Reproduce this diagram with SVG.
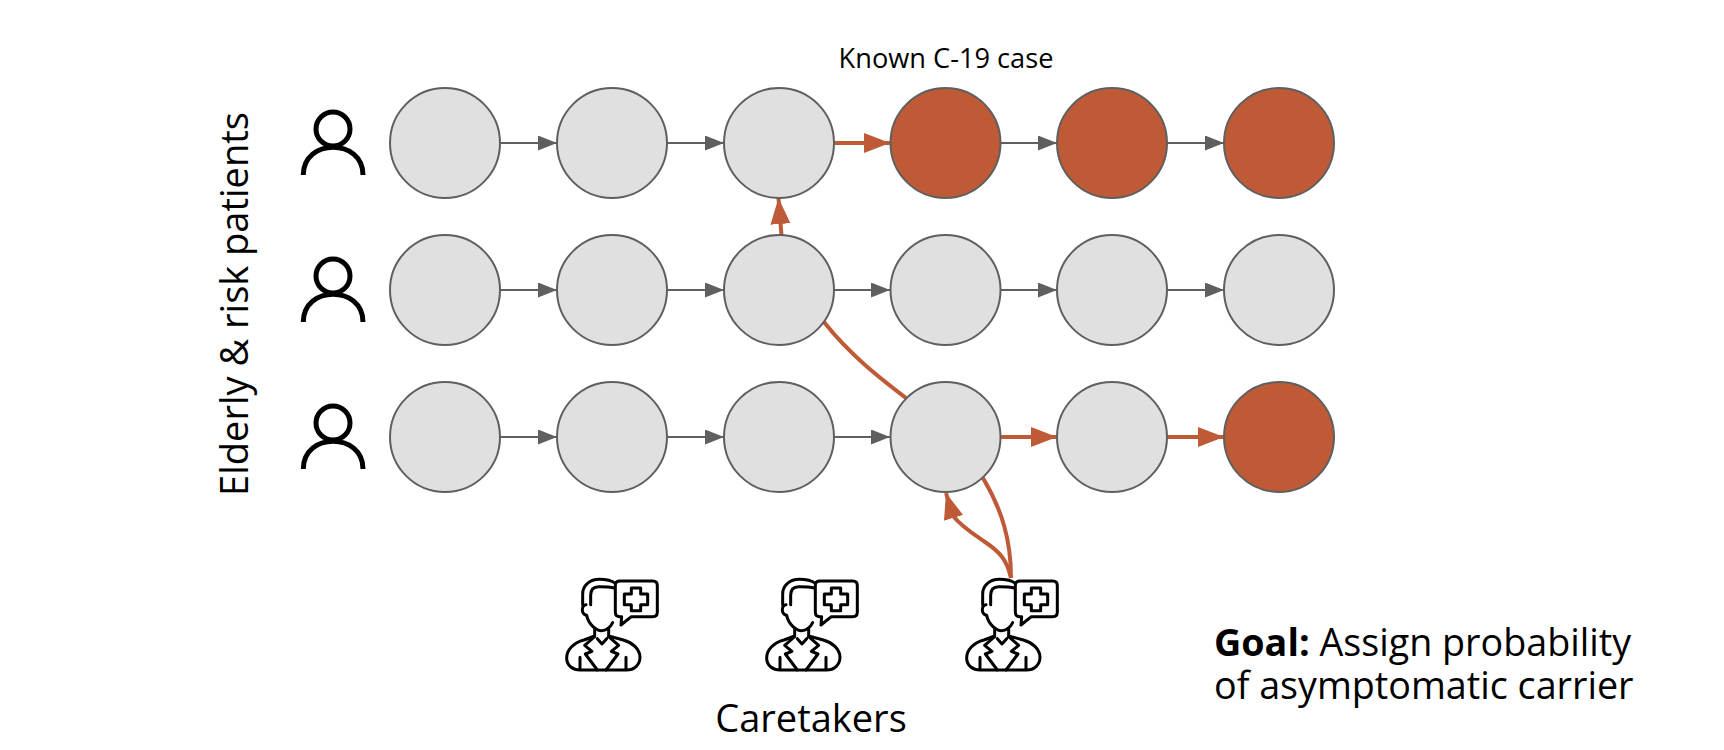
<svg xmlns="http://www.w3.org/2000/svg" width="1724" height="750" viewBox="0 0 1724 750">
<style>
.n{fill:#e0e0e0;stroke:#5f5f5f;stroke-width:2}
.r{fill:#bf5a36;stroke:#5f5f5f;stroke-width:2}
.g{fill:none;stroke:#5f5f5f;stroke-width:2}
.o{fill:none;stroke:#bf5a36;stroke-width:4}
text{font-family:"Open Sans","Noto Sans",sans-serif;fill:#000}
.ic{fill:none;stroke:#000;stroke-width:5}
.dc{fill:none;stroke:#000;stroke-width:9;stroke-linejoin:round;stroke-linecap:round}
</style>
<defs>
<marker id="ag" markerUnits="userSpaceOnUse" markerWidth="20" markerHeight="16" refX="19" refY="7.500" orient="auto"><path d="M0 0L19 7.500L0 15Z" fill="#5f5f5f"/></marker>
<marker id="ao" markerUnits="userSpaceOnUse" markerWidth="28" markerHeight="22" refX="26" refY="10" orient="auto"><path d="M0 0L26 10L0 20Z" fill="#bf5a36"/></marker>
<g id="person"><circle cx="333" cy="129" r="17" class="ic"/><path d="M303.300 175C303.300 138 363 138 363 175" class="ic"/></g>
<g id="doc" transform="scale(.3333)">
<path class="dc" d="M166 46Q166 33 180 33H278Q292 33 292 47V126Q292 140 278 140H214L183 165L185 140H180Q166 140 166 126Z"/>
<path class="dc" d="M214 54H242V72H263V104H242V122H214V104H193V72H214Z"/>
<path class="dc" d="M166 40Q150 28 118 28C90 28 68 45 68 72V104"/>
<path class="dc" d="M92 104V76Q92 50 116 50C130 50 150 50 163 54"/>
<path class="dc" d="M78 104C64 106 62 132 80 136C86 165 110 182 124 182C138 182 150 174 158 158"/>
<path class="dc" d="M104 176V198L72 210C40 218 20 240 20 264C20 288 40 300 60 300H200C222 300 240 285 240 262C240 238 218 218 190 210L146 198V176"/>
<path class="dc" d="M104 200L74 226L96 244L76 252L112 300M146 200L176 226L154 244L174 252L138 300M112 206L126 222L140 206M60 262V298M198 262V298"/>
</g>
</defs>

<g id="connectors">
<path class="g" marker-end="url(#ag)" d="M500 143H557"/>
<path class="g" marker-end="url(#ag)" d="M667 143H724"/>
<path class="o" marker-end="url(#ao)" d="M834 143H890"/>
<path class="g" marker-end="url(#ag)" d="M1001 143H1057"/>
<path class="g" marker-end="url(#ag)" d="M1167 143H1224"/>
<path class="g" marker-end="url(#ag)" d="M500 290H557"/>
<path class="g" marker-end="url(#ag)" d="M667 290H724"/>
<path class="g" marker-end="url(#ag)" d="M834 290H890"/>
<path class="g" marker-end="url(#ag)" d="M1001 290H1057"/>
<path class="g" marker-end="url(#ag)" d="M1167 290H1224"/>
<path class="g" marker-end="url(#ag)" d="M500 437H557"/>
<path class="g" marker-end="url(#ag)" d="M667 437H724"/>
<path class="g" marker-end="url(#ag)" d="M834 437H890"/>
<path class="o" marker-end="url(#ao)" d="M1001 437H1057"/>
<path class="o" marker-end="url(#ao)" d="M1167 437H1224"/>
<path class="o" marker-end="url(#ao)" d="M781.500 235Q780 218 778.500 198"/>
<path class="o" d="M824 322C850 355 880 378 906 398"/>
<path class="o" d="M983 478C1002 510 1011 540 1011 578"/>
<path class="o" marker-end="url(#ao)" d="M1011 578C1007 560 1000 552 985 542C975 535 962 527 953 516L946 493"/>
</g>

<g id="n11"><circle class="n" cx="445" cy="143" r="55"/></g>
<g id="n12"><circle class="n" cx="612" cy="143" r="55"/></g>
<g id="n13"><circle class="n" cx="779" cy="143" r="55"/></g>
<g id="n14"><circle class="r" cx="945.500" cy="143" r="55"/></g>
<g id="n15"><circle class="r" cx="1112" cy="143" r="55"/></g>
<g id="n16"><circle class="r" cx="1279" cy="143" r="55"/></g>
<g id="n21"><circle class="n" cx="445" cy="290" r="55"/></g>
<g id="n22"><circle class="n" cx="612" cy="290" r="55"/></g>
<g id="n23"><circle class="n" cx="779" cy="290" r="55"/></g>
<g id="n24"><circle class="n" cx="945.500" cy="290" r="55"/></g>
<g id="n25"><circle class="n" cx="1112" cy="290" r="55"/></g>
<g id="n26"><circle class="n" cx="1279" cy="290" r="55"/></g>
<g id="n31"><circle class="n" cx="445" cy="437" r="55"/></g>
<g id="n32"><circle class="n" cx="612" cy="437" r="55"/></g>
<g id="n33"><circle class="n" cx="779" cy="437" r="55"/></g>
<g id="n34"><circle class="n" cx="945.500" cy="437" r="55"/></g>
<g id="n35"><circle class="n" cx="1112" cy="437" r="55"/></g>
<g id="n36"><circle class="r" cx="1279" cy="437" r="55"/></g>

<g id="patients">
<use href="#person"/>
<use href="#person" y="147"/>
<use href="#person" y="294"/>
</g>
<g id="caretakers">
<use href="#doc" x="560" y="570"/>
<use href="#doc" x="760" y="570"/>
<use href="#doc" x="960" y="570"/>
</g>

<text x="946" y="68" font-size="27.200" text-anchor="middle">Known C-19 case</text>
<text transform="translate(248 304) rotate(-90)" font-size="38" text-anchor="middle">Elderly &amp; risk patients</text>
<text x="811" y="732" font-size="38" text-anchor="middle">Caretakers</text>
<text x="1214" y="656" font-size="37.700"><tspan font-weight="700">Goal:</tspan> Assign probability</text>
<text x="1214" y="699" font-size="37.700">of asymptomatic carrier</text>
</svg>
